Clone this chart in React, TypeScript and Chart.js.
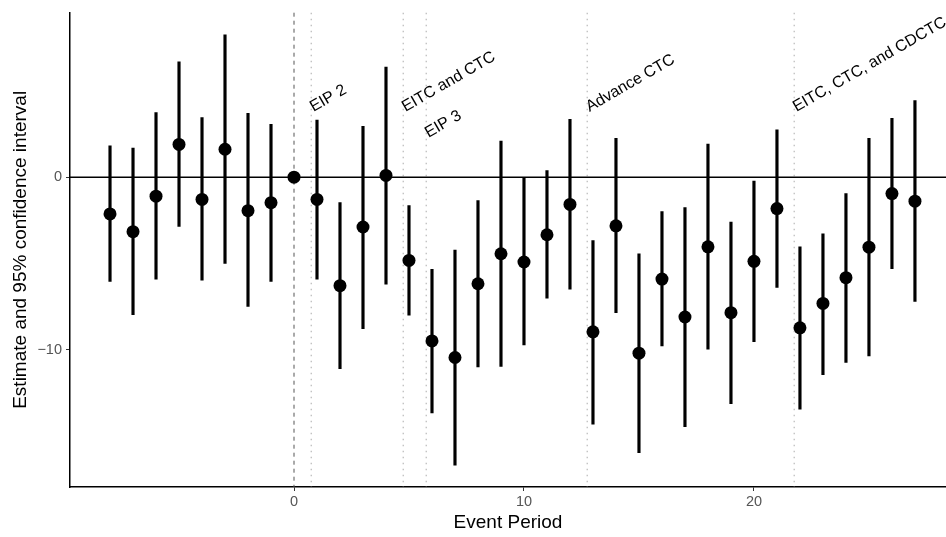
import React, { useEffect, useRef } from 'react';
import { Chart, registerables } from 'chart.js';

Chart.register(...registerables);

const periods = [-8, -7, -6, -5, -4, -3, -2, -1, 0, 1, 2, 3, 4, 5, 6, 7, 8, 9, 10, 11, 12, 13, 14, 15, 16, 17, 18, 19, 20, 21, 22, 23, 24, 25, 26, 27];
const estimates = [-2.13, -3.16, -1.10, 1.90, -1.29, 1.62, -1.94, -1.48, 0, -1.29, -6.29, -2.89, 0.10, -4.83, -9.50, -10.46, -6.18, -4.44, -4.92, -3.34, -1.58, -8.97, -2.82, -10.21, -5.91, -8.11, -4.04, -7.86, -4.88, -1.82, -8.74, -7.32, -5.83, -4.06, -0.95, -1.39];
const lower = [-6.05, -7.98, -5.91, -2.85, -5.97, -5.00, -7.50, -6.05, 0, -5.91, -11.11, -8.78, -6.20, -8.01, -13.68, -16.70, -11.01, -10.97, -9.73, -7.02, -6.49, -14.32, -7.86, -15.98, -9.79, -14.47, -9.98, -13.13, -9.54, -6.39, -13.46, -11.45, -10.74, -10.36, -5.30, -7.21];
const upper = [1.82, 1.69, 3.74, 6.69, 3.45, 8.26, 3.71, 3.07, 0, 3.31, -1.48, 2.95, 6.39, -1.65, -5.34, -4.23, -1.36, 2.09, -0.03, 0.39, 3.35, -3.68, 2.25, -4.44, -1.99, -1.77, 1.92, -2.61, -0.22, 2.74, -4.04, -3.28, -0.95, 2.25, 3.41, 4.44];

const eventLines = [0.75, 4.75, 5.75, 12.75, 21.75];
const eventLabels = ['EIP 2', 'EITC and CTC', 'EIP 3', 'Advance CTC', 'EITC, CTC, and CDCTC'];
const eventLabelY = [4, 4, 2.5, 4, 4];
const referencePeriod = 0;

const xTicks = [0, 10, 20];
const yTicks = [-10, 0];
const xRange = [-9.74, 28.35];
const yRange = [-17.97, 9.54];

const FONT = "'Liberation Sans', Arial, Helvetica, sans-serif";

const fmt = (v: number) => (v < 0 ? '\u2212' + Math.abs(v) : String(v));

const refLinesPlugin = {
  id: 'refLines',
  beforeDatasetsDraw(chart: any) {
    const { ctx, chartArea, scales } = chart;
    const xs = scales.x;
    const ys = scales.y;
    ctx.save();
    // dotted event lines
    ctx.strokeStyle = '#bdbdbd';
    ctx.lineWidth = 1.3;
    ctx.setLineDash([1.5, 4.5]);
    eventLines.forEach((v) => {
      const px = xs.getPixelForValue(v);
      ctx.beginPath();
      ctx.moveTo(px, chartArea.top);
      ctx.lineTo(px, chartArea.bottom);
      ctx.stroke();
    });
    // dashed reference period line
    ctx.strokeStyle = '#555555';
    ctx.lineWidth = 1;
    ctx.setLineDash([4, 4]);
    const p0 = xs.getPixelForValue(referencePeriod);
    ctx.beginPath();
    ctx.moveTo(p0, chartArea.top);
    ctx.lineTo(p0, chartArea.bottom);
    ctx.stroke();
    // zero horizontal line
    ctx.setLineDash([]);
    ctx.strokeStyle = '#000000';
    ctx.lineWidth = 1.5;
    const y0 = ys.getPixelForValue(0);
    ctx.beginPath();
    ctx.moveTo(chartArea.left, y0);
    ctx.lineTo(chartArea.right, y0);
    ctx.stroke();
    ctx.restore();
  },
  afterDatasetsDraw(chart: any) {
    const { ctx, scales } = chart;
    ctx.save();
    ctx.fillStyle = '#000000';
    ctx.font = `16px ${FONT}`;
    ctx.textAlign = 'left';
    ctx.textBaseline = 'middle';
    eventLabels.forEach((t, i) => {
      const px = scales.x.getPixelForValue(eventLines[i]);
      const py = scales.y.getPixelForValue(eventLabelY[i]);
      ctx.save();
      ctx.translate(px, py);
      ctx.rotate(-Math.PI / 6);
      ctx.fillText(t, 0, 0);
      ctx.restore();
    });
    ctx.restore();
  },
};

export default function App() {
  const ref = useRef<HTMLCanvasElement | null>(null);
  useEffect(() => {
    if (!ref.current) return;
    const barData = periods
      .map((p, i) => ({ x: p, y: [lower[i], upper[i]] }))
      .filter((d) => d.x !== referencePeriod);
    const pointData = periods.map((p, i) => ({ x: p, y: estimates[i] }));
    const chart = new Chart(ref.current, {
      type: 'scatter',
      data: {
        datasets: [
          {
            type: 'bar',
            data: barData as any,
            backgroundColor: '#000000',
            borderWidth: 0,
            barThickness: 2.5,
            grouped: false,
            order: 2,
          } as any,
          {
            type: 'scatter',
            data: pointData,
            pointRadius: 6.5,
            pointBackgroundColor: '#000000',
            pointBorderWidth: 0,
            order: 1,
          } as any,
        ],
      },
      options: {
        animation: false,
        responsive: true,
        maintainAspectRatio: false,
        layout: { autoPadding: false, padding: { top: 7, right: 0, left: 0, bottom: 0 } },
        plugins: { legend: { display: false }, tooltip: { enabled: false } },
        scales: {
          x: {
            type: 'linear',
            offset: false,
            min: xRange[0],
            max: xRange[1],
            afterBuildTicks: (s: any) => {
              s.ticks = xTicks.map((v) => ({ value: v }));
            },
            afterFit: (s: any) => {
              s.height = 50;
            },
            grid: { display: true, offset: false, drawOnChartArea: false, drawTicks: true, tickLength: 4, color: '#333333', lineWidth: 1 },
            border: { display: true, color: '#000000', width: 1.5 },
            ticks: { color: '#555555', font: { size: 14.5, family: FONT }, padding: 2, callback: (v: any) => fmt(Number(v)), maxRotation: 0 },
            title: { display: true, text: 'Event Period', color: '#000000', font: { size: 19, family: FONT }, padding: { top: 0, bottom: 2.5 } },
          },
          y: {
            type: 'linear',
            min: yRange[0],
            max: yRange[1],
            afterBuildTicks: (s: any) => {
              s.ticks = yTicks.map((v) => ({ value: v }));
            },
            afterFit: (s: any) => {
              s.width = 70;
            },
            grid: { display: true, drawOnChartArea: false, drawTicks: true, tickLength: 4, color: '#333333', lineWidth: 1 },
            border: { display: true, color: '#000000', width: 1.5 },
            ticks: { color: '#555555', font: { size: 14.5, family: FONT }, padding: 4, callback: (v: any) => fmt(Number(v)) },
            title: { display: true, text: 'Estimate and 95% confidence interval', color: '#000000', font: { size: 19, family: FONT }, padding: { top: 9, bottom: 0 } },
          },
        },
      },
      plugins: [refLinesPlugin],
    });
    return () => chart.destroy();
  }, []);
  return (
    <div style={{ position: 'fixed', left: 0, top: 0, width: 946, height: 537, background: '#ffffff' }}>
      <canvas ref={ref} />
    </div>
  );
}
